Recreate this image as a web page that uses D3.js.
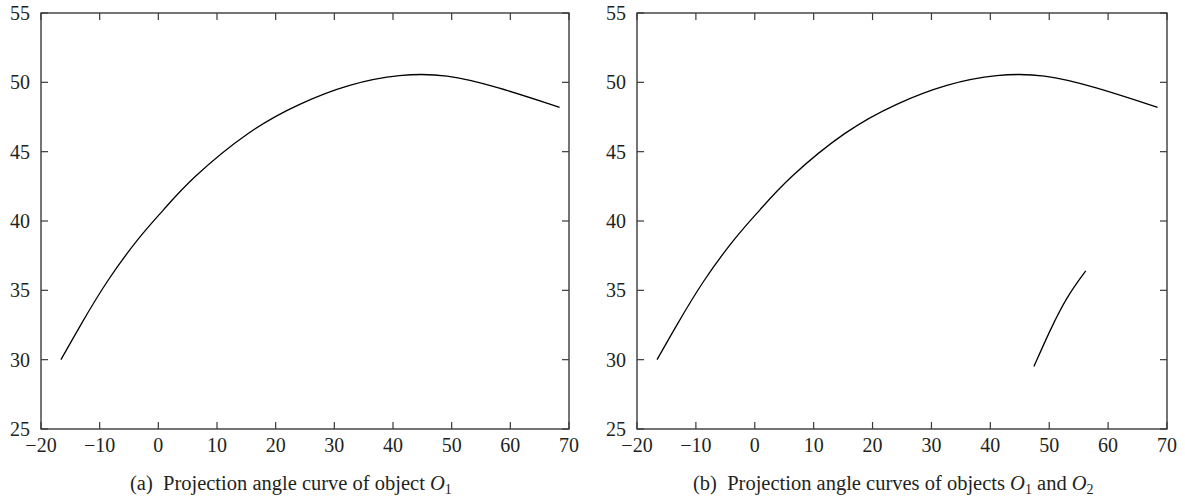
<!DOCTYPE html>
<html>
<head>
<meta charset="utf-8">
<script src="https://cdn.jsdelivr.net/npm/d3@7"></script>
<style>
  body { margin: 0; background: #fff; }
  svg text { font-family: "Liberation Serif", "DejaVu Serif", serif; fill: #231f20; }
</style>
</head>
<body>
<div id="chart"></div>
<script>
// projection angle of object O1
const o1X = [-16.6, -13.4, -8.8, -3.1, 0.8, 5.4, 15.6, 24.1, 32.6, 41.2, 49.1, 57.6, 68.4]
const o1Y = [30.0, 32.4, 35.7, 38.95, 40.75, 43.0, 46.6, 48.5, 49.9, 50.6, 50.6, 49.7, 48.2]
// projection angle of object O2
const o2X = [47.4, 50.1, 53.0, 56.2]
const o2Y = [29.5, 32.1, 34.55, 36.4]

const xTicks = [-20, -10, 0, 10, 20, 30, 40, 50, 60, 70]
const yTicks = [25, 30, 35, 40, 45, 50, 55]

const W = 1185, H = 498
const svg = d3.select("#chart").append("svg")
  .attr("width", W).attr("height", H)

const fmt = d => d < 0 ? "\u2212" + Math.abs(d) : String(d)

function panel(left, right, top, bottom, series, caption) {
  const x = d3.scaleLinear().domain([-20, 70]).range([left, right])
  const y = d3.scaleLinear().domain([25, 55]).range([bottom, top])
  const g = svg.append("g")
  const tk = 7

  // frame
  g.append("rect")
    .attr("x", left).attr("y", top)
    .attr("width", right - left).attr("height", bottom - top)
    .attr("fill", "none").attr("stroke", "#3a3a3a").attr("stroke-width", 1.4)

  // inward ticks, all four sides
  xTicks.forEach(v => {
    g.append("line").attr("x1", x(v)).attr("x2", x(v)).attr("y1", bottom).attr("y2", bottom - tk)
      .attr("stroke", "#3a3a3a").attr("stroke-width", 1.2)
    g.append("line").attr("x1", x(v)).attr("x2", x(v)).attr("y1", top).attr("y2", top + tk)
      .attr("stroke", "#3a3a3a").attr("stroke-width", 1.2)
    g.append("text").attr("x", x(v)).attr("y", bottom + 23)
      .attr("text-anchor", "middle").attr("font-size", 20).text(fmt(v))
  })
  yTicks.forEach(v => {
    g.append("line").attr("x1", left).attr("x2", left + tk).attr("y1", y(v)).attr("y2", y(v))
      .attr("stroke", "#3a3a3a").attr("stroke-width", 1.2)
    g.append("line").attr("x1", right).attr("x2", right - tk).attr("y1", y(v)).attr("y2", y(v))
      .attr("stroke", "#3a3a3a").attr("stroke-width", 1.2)
    g.append("text").attr("x", left - 11).attr("y", y(v) + 7)
      .attr("text-anchor", "end").attr("font-size", 20).text(v)
  })

  // smoothing spline, the read points are a bit noisy
  const line = d3.line()
    .x(d => x(d[0])).y(d => y(d[1]))
    .curve(d3.curveBasis)

  series.forEach(s => {
    g.append("path")
      .datum(d3.zip(s[0], s[1]))
      .attr("d", line)
      .attr("fill", "none").attr("stroke", "#000").attr("stroke-width", 1.3)
  })

  // caption, O is italic with a lowered index
  const t = g.append("text").attr("x", caption.x).attr("y", 490)
    .attr("font-size", 20.5)
  let down = 0
  caption.parts.forEach(p => {
    if (p.sub) {
      t.append("tspan").attr("font-style", "italic").attr("dy", -down).text("O")
      t.append("tspan").attr("font-size", 14).attr("dy", 4).text(p.sub)
      down = 4
    } else {
      t.append("tspan").attr("dy", -down).text(p.txt)
      down = 0
    }
  })
}

panel(41, 569, 13, 429, [[o1X, o1Y]], {
  x: 130,
  parts: [{ txt: "(a)\u00a0\u00a0Projection angle curve of object " }, { sub: "1" }]
})

panel(637, 1167, 13, 429, [[o1X, o1Y], [o2X, o2Y]], {
  x: 693,
  parts: [{ txt: "(b)\u00a0\u00a0Projection angle curves of objects " }, { sub: "1" },
    { txt: "\u00a0and " }, { sub: "2" }]
})
</script>
</body>
</html>
